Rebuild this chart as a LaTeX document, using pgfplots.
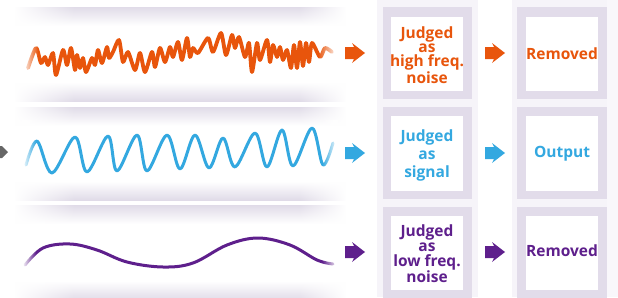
\documentclass[border=0pt]{standalone}
\usepackage{pgfplots}
\pgfplotsset{compat=1.18}
\usepackage{fontspec}
\setmainfont{Open Sans}
\usetikzlibrary{fadings}
\definecolor{orng}{HTML}{E8550C}
\definecolor{blu}{HTML}{33A8E0}
\definecolor{purp}{HTML}{5E1F8C}
\definecolor{lav}{HTML}{E0DBE8}
\definecolor{framec}{HTML}{E2DCEA}
\definecolor{panel}{HTML}{F6F4F9}
\pgfdeclareverticalshading{band}{100bp}{color(0bp)=(lav); color(25bp)=(lav); color(35bp)=(white); color(65bp)=(white); color(75bp)=(lav); color(100bp)=(lav)}
\tikzfading[name=fadeLR, left color=transparent!0, right color=transparent!100]
\tikzfading[name=fadeRL, left color=transparent!100, right color=transparent!0]
\begin{document}
\begin{tikzpicture}
\begin{axis}[scale only axis, width=618pt, height=297pt, xmin=0, xmax=618, ymin=0, ymax=297, y dir=reverse, hide axis, clip=true]
\path (0,0) rectangle (618,297);
% bands
\shade[shading=band] (15,7) rectangle (345,101);
\shade[shading=band] (15,107) rectangle (345,200);
\shade[shading=band] (15,205) rectangle (345,300);
\fill[white, path fading=fadeLR] (14,0) rectangle (75,300);
\fill[white, path fading=fadeRL] (298,0) rectangle (346,300);
% panels
\fill[panel] (377,0) rectangle (478,297);
\fill[panel] (512,0) rectangle (612,297);
\fill[panel!70!white] (607,0) rectangle (618,297);
% frames
\fill[framec] (383,7) rectangle (472,99);
\fill[white] (391,17) rectangle (463,91);
\fill[framec] (517,7) rectangle (607,99);
\fill[white] (526,17) rectangle (598,91);
\fill[framec] (383,107) rectangle (472,199);
\fill[white] (391,116) rectangle (463,191);
\fill[framec] (517,107) rectangle (607,199);
\fill[white] (526,116) rectangle (598,191);
\fill[framec] (383,207) rectangle (472,300);
\fill[white] (391,216) rectangle (463,290);
\fill[framec] (517,207) rectangle (607,300);
\fill[white] (526,216) rectangle (598,290);
% waves
\addplot[orng, line width=3.8pt, smooth, tension=0.45, line join=round, line cap=round] coordinates {
(28,68) (36,48) (41,63) (45,57) (48,65) (53,53) (56,75) (63,50) (67,65) (71,48) (75,70) (77,55) (80,68) (83,58) (86,72) (92,58) (95,65) (98,50) (102,63) (107,47) (109,58) (113,52) (119,40) (123,62) (128,52) (135,70) (140,53) (145,72) (152,52) (155,67) (160,48) (165,62) (170,47) (173,57) (178,42) (182,60) (187,38) (190,57) (193,48) (198,53) (208,38) (213,52) (221,33) (226,55) (232,35) (235,48) (239,37) (245,57) (249,43) (252,72) (257,43) (260,60) (267,40) (270,62) (273,45) (277,57) (280,47) (283,60) (287,50) (291,68) (294,45) (297,68) (300,42) (303,66) (306,43) (309,62) (312,43) (320,57) (325,48) (332,52)};
\addplot[blu, line width=3pt, smooth, tension=0.55, line join=round, line cap=round] coordinates {
(26,165) (37,141) (52,173) (75,137) (87,172) (108,136) (117,171) (137,135) (147,171) (167,135) (180,169) (195,135) (209,168) (223,138) (235,167) (255,133) (267,167) (282,130) (293,166) (312,128) (323,165) (333,143)};
\addplot[purp, line width=3pt, smooth, tension=0.6, line cap=round] coordinates {
(25,265) (43,248) (70,244) (97,250) (127,262) (163,267) (193,263) (227,245) (258,238) (290,245) (317,260) (333,264)};
% fade wave ends
\fill[white, path fading=fadeLR] (22,25) rectangle (38,85);
\fill[white, path fading=fadeLR] (22,120) rectangle (36,180);
\fill[white, path fading=fadeLR] (22,230) rectangle (36,280);
\fill[white, path fading=fadeRL] (318,25) rectangle (338,85);
\fill[white, path fading=fadeRL] (322,120) rectangle (338,180);
\fill[white, path fading=fadeRL] (322,230) rectangle (338,280);
% arrows
\fill[orng] (345,47) -- (354,47) -- (352,43) -- (365,53) -- (352,63) -- (354,59) -- (345,59) -- cycle;
\fill[orng] (485,47) -- (494,47) -- (492,43) -- (505,53) -- (492,63) -- (494,59) -- (485,59) -- cycle;
\fill[blu] (345,147) -- (354,147) -- (352,143) -- (365,153) -- (352,163) -- (354,159) -- (345,159) -- cycle;
\fill[blu] (485,147) -- (494,147) -- (492,143) -- (505,153) -- (492,163) -- (494,159) -- (485,159) -- cycle;
\fill[purp] (345,246) -- (354,246) -- (352,242) -- (365,252) -- (352,262) -- (354,258) -- (345,258) -- cycle;
\fill[purp] (485,246) -- (494,246) -- (492,242) -- (505,252) -- (492,262) -- (494,258) -- (485,258) -- cycle;
\fill[black!60] (0,146) -- (2,146) -- (8,152) -- (2,158) -- (0,158) -- cycle;
% texts
\node[text=orng, align=center, font=\fontsize{15.5}{14.3}\selectfont\bfseries] at (427,55) {Judged\\as\\high freq.\\noise};
\node[text=orng, font=\fontsize{15.5}{14}\selectfont\bfseries] at (562,54) {Removed};
\node[text=blu, align=center, font=\fontsize{15.5}{18}\selectfont\bfseries] at (427,155) {Judged\\as\\signal};
\node[text=blu, font=\fontsize{15.5}{14}\selectfont\bfseries] at (562,154) {Output};
\node[text=purp, align=center, font=\fontsize{15.5}{14.7}\selectfont\bfseries] at (427,254) {Judged\\as\\low freq.\\noise};
\node[text=purp, font=\fontsize{15.5}{14}\selectfont\bfseries] at (562,251) {Removed};
\end{axis}
\end{tikzpicture}
\end{document}
